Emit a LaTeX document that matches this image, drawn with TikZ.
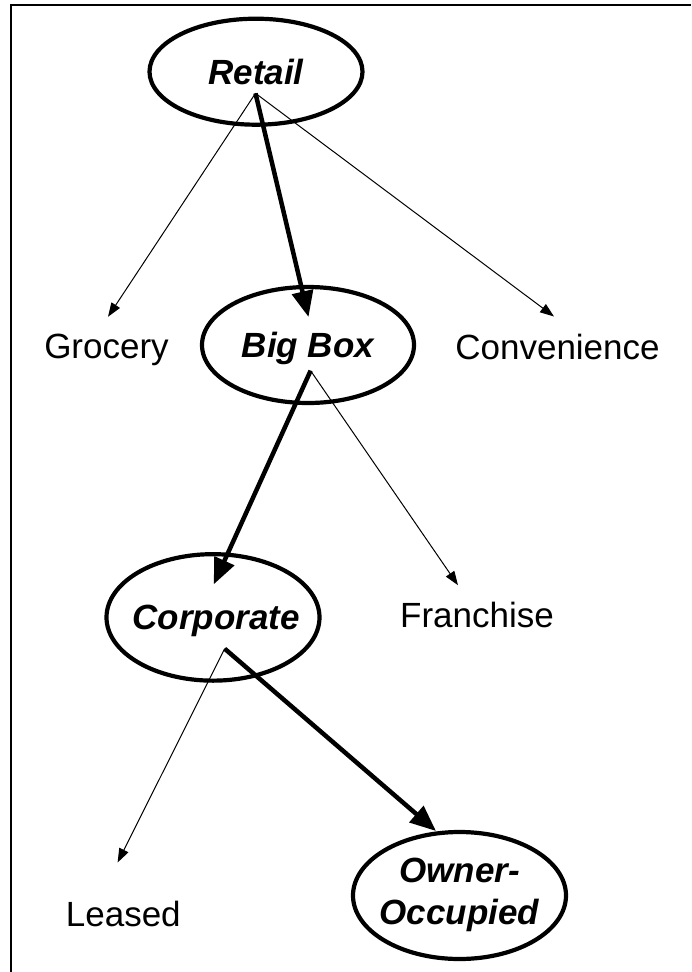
\documentclass[tikz,border=0pt]{standalone}
\usepackage{fontspec}
\setmainfont{Liberation Sans}
\usetikzlibrary{arrows.meta,shapes.geometric}
\begin{document}
\begin{tikzpicture}[x=1pt,y=-1pt,
  every node/.style={inner sep=0pt, outer sep=0pt, font=\fontsize{35}{42}\selectfont},
  oval/.style={draw, line width=4.2pt, ellipse, minimum width=213pt,
    font=\fontsize{35}{42}\selectfont\bfseries\itshape},
  onerow/.style={text height=25pt, text depth=0pt},
  minorarrow/.style={line width=1pt, -{Triangle[length=14pt,width=10pt]}},
  majorarrow/.style={line width=4.5pt, -{Triangle[length=26pt,width=21pt]}},
  frameline/.style={line width=2pt}
]
\useasboundingbox (0,0) rectangle (691,972);
\draw[frameline] (10.5,972) -- (10.5,5) -- (691,5);

% ellipse nodes
\node[oval, onerow, minimum height=106pt] (retail) at (256,71.7) {\makebox[0pt]{Retail}};
\node[oval, onerow, minimum width=212pt, minimum height=116pt] (bigbox) at (308,345) {\makebox[0pt]{Big Box}};
\node[oval, onerow, minimum height=126.5pt] (corporate) at (213,617.4) {\makebox[0pt]{\hspace{6pt}Corporate}};
\node[oval, minimum height=127pt] (owner) at (459.5,895.5)
  {\makebox[0pt]{\begin{tabular}{@{}c@{}}Owner-\hspace{17pt}\\Occupied\end{tabular}}};

% plain text nodes
\node[onerow] (grocery) at (106.5,345.8) {Grocery};
\node[onerow] (convenience) at (557.5,346.5) {Convenience};
\node[onerow] (franchise) at (477,615.2) {Franchise};
\node[onerow] (leased) at (123.3,913.5) {Leased};

% start points inside the ellipses
\coordinate (ra) at ([shift={(-0.5,21.6)}]retail.center);
\coordinate (ba) at ([shift={(2.6,25.7)}]bigbox.center);
\coordinate (ca) at ([shift={(11.7,31.3)}]corporate.center);

% connectors
\draw[minorarrow] (ra) -- ([shift={(1.5,-29)}]grocery.center);
\draw[minorarrow] (ra) -- ([shift={(-3.5,-30)}]convenience.center);
\draw[majorarrow] (ra) -- ([shift={(0.5,-28)}]bigbox.center);

\draw[minorarrow] (ba) -- ([shift={(-19,-30)}]franchise.center);
\draw[majorarrow] (ba) -- ([shift={(0.7,-33)}]corporate.center);

\draw[minorarrow] (ca) -- ([shift={(-5.7,-51)}]leased.center);
\draw[majorarrow] (ca) -- ([shift={(-23.5,-64.5)}]owner.center);
\end{tikzpicture}
\end{document}
